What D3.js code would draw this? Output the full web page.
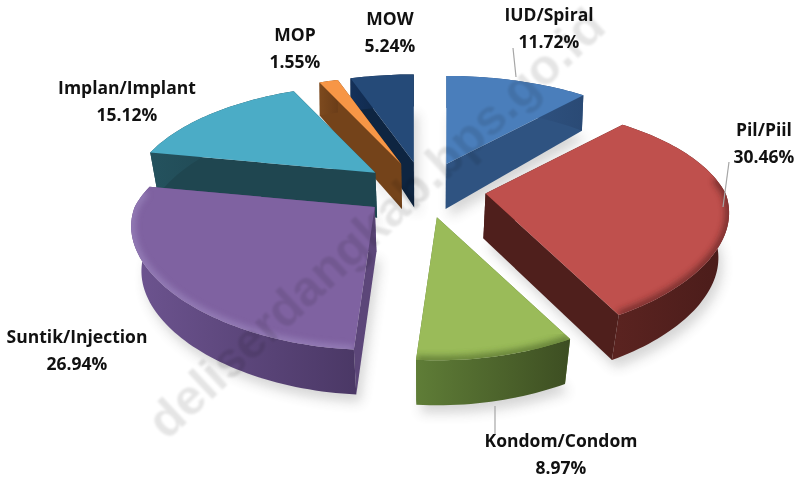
<!DOCTYPE html>
<html>
<head>
<meta charset="utf-8">
<script src="https://cdn.jsdelivr.net/npm/d3@7"></script>
<style>
    html, body { margin: 0; background: #fff; }
    svg { display: block; }
    text { font-family: "Open Sans", Lato, sans-serif; font-weight: 700; fill: #111; }
</style>
</head>
<body>
<div id="chart"></div>
<script>
const categories = ["IUD/Spiral", "Pil/Piil", "Kondom/Condom", "Suntik/Injection", "Implan/Implant", "MOP", "MOW"];
const values = [11.72, 30.46, 8.97, 26.94, 15.12, 1.55, 5.24];

const topColors = ["#4a7ebb", "#bf504d", "#9abb59", "#7f62a1", "#4bacc6", "#f79646", "#254a78"];
const cutColors = ["#2f5381", "#4f1f1c", "#5d7a35", "#5c4679", "#1f4650", "#74431a", "#0e2541"];
const rimFrom = ["#355d91", "#5a2320", "#5f7d37", "#6d5490", "#24525e", "#7d4a1e", "#14315a"];
const rimTo = ["#2a4a75", "#4a1c1a", "#3d4e22", "#4b3866", "#1d414b", "#6b3d18", "#0c2039"];
const bevelColors = ["#2f5381", "#5a2320", "#4d662c", "#9d88bf", "#1f4650", "#74431a", "#0e2541"];

// label centre x, first baseline y, leader line (x1, y1, x2, y2) or null
const labelX = [549, 764, 561, 77, 127, 295, 390];
const labelY = [21, 136, 447, 343, 94, 41, 25];
const leaders = [[513, 48, 516, 77], [729, 162, 723, 207], [495, 406, 495, 435], null, null, null, null];

const drawOrder = [6, 5, 4, 3, 0, 2, 1];

const width = 801;
const height = 481;
const cx = 424;
const cy = 190;
const explode = 62;
const explodeTilt = 0.45;

// perspective of the pie plate, fitted to the picture
const radiusX = 240;
const radiusY = 109;
const persp = 0.238;
const perspFront = 0.17;

const svg = d3.select("#chart").append("svg")
    .attr("width", width)
    .attr("height", height);
const defs = svg.append("defs");

const blur = (id, dev) => defs.append("filter")
    .attr("id", id)
    .attr("x", "-20%").attr("y", "-20%").attr("width", "140%").attr("height", "140%")
    .append("feGaussianBlur").attr("stdDeviation", dev);
blur("shadowBlur", 6);
blur("bevelBlur", 3);
blur("markBlur", 0.8);

const slices = d3.pie().sort(null).startAngle(0).endAngle(2 * Math.PI)(values);
const line = d3.line();

// top face point of a slice, angle clockwise from the back of the pie
function topPoint(apex, a) {
    const u = Math.sin(a);
    const v = Math.cos(a);
    const denY = 1 + persp * v;
    const denX = 1 + (v < 0 ? perspFront : persp) * v;
    return [apex[0] + radiusX * u / denX, apex[1] - radiusY * v / denY];
}

// matching point on the bottom face: thinner and less shifted towards the back
function bottomPoint(p, v) {
    const back = Math.max(v, 0);
    const depth = 45 - 13 * back;
    return [p[0] - (p[0] - cx) * 0.035 * (1 - back), p[1] + depth];
}

const apexes = slices.map(d => {
    const mid = (d.startAngle + d.endAngle) / 2;
    return [cx + explode * Math.sin(mid), cy - explode * explodeTilt * Math.cos(mid)];
});

const rimAngles = d => {
    const n = Math.max(6, Math.ceil((d.endAngle - d.startAngle) * 40));
    return d3.range(n + 1).map(j => d.startAngle + (d.endAngle - d.startAngle) * j / n);
};

// soft shadow first, under everything
const shadow = svg.append("g").attr("filter", "url(#shadowBlur)").attr("opacity", 0.24);
slices.forEach((d, i) => {
    const apex = apexes[i];
    const pts = rimAngles(d).map(a => bottomPoint(topPoint(apex, a), Math.cos(a)));
    pts.push(bottomPoint(apex, 0));
    shadow.append("path")
        .attr("d", line(pts) + "Z")
        .attr("transform", "translate(4,8)")
        .attr("fill", "#555");
});

const pieGroup = svg.append("g");

drawOrder.forEach(i => {
    const d = slices[i];
    const apex = apexes[i];
    const angles = rimAngles(d);
    const g = pieGroup.append("g").attr("class", "slice");
    const apexBottom = bottomPoint(apex, 0);

    // the two cut faces, the one turned to the viewer last
    [d.startAngle, d.endAngle]
        .sort((a, b) => Math.cos(b) - Math.cos(a))
        .forEach(a => {
            const p = topPoint(apex, a);
            g.append("path")
                .attr("d", line([apex, apexBottom, bottomPoint(p, Math.cos(a)), p]) + "Z")
                .attr("fill", cutColors[i]);
        });

    // outer wall
    const topRim = angles.map(a => topPoint(apex, a));
    const bottomRim = angles.map((a, j) => bottomPoint(topRim[j], Math.cos(a)));
    const xs = d3.extent(topRim, p => p[0]);
    const gradId = "rim" + i;
    const grad = defs.append("linearGradient")
        .attr("id", gradId)
        .attr("gradientUnits", "userSpaceOnUse")
        .attr("x1", xs[0]).attr("x2", xs[1])
        .attr("y1", 0).attr("y2", 0);
    grad.append("stop").attr("offset", 0).attr("stop-color", rimFrom[i]);
    grad.append("stop").attr("offset", 1).attr("stop-color", rimTo[i]);
    g.append("path")
        .attr("d", line(topRim.concat(bottomRim.slice().reverse())) + "Z")
        .attr("fill", "url(#" + gradId + ")");

    // top face
    const face = line([apex].concat(topRim)) + "Z";
    g.append("path").attr("d", face).attr("fill", topColors[i]);

    // bevel only on the part of the rim that faces the viewer
    const frontRim = topRim.filter((p, j) => Math.cos(angles[j]) < 0.15);
    if (frontRim.length > 1) {
        const clipId = "face" + i;
        defs.append("clipPath").attr("id", clipId).append("path").attr("d", face);
        g.append("g").attr("clip-path", "url(#" + clipId + ")")
            .append("path")
            .attr("d", line(frontRim))
            .attr("fill", "none")
            .attr("stroke", bevelColors[i])
            .attr("stroke-width", 8)
            .attr("opacity", 0.7)
            .attr("filter", "url(#bevelBlur)");
    }
});

// leader lines
svg.append("g").selectAll("line")
    .data(leaders.filter(d => d))
    .enter()
    .append("line")
    .attr("x1", d => d[0])
    .attr("y1", d => d[1])
    .attr("x2", d => d[2])
    .attr("y2", d => d[3])
    .attr("stroke", "#a6a6a6")
    .attr("stroke-width", 1.2);

// labels
const labels = svg.append("g").selectAll("text")
    .data(categories)
    .enter()
    .append("text")
    .attr("text-anchor", "middle")
    .style("font-size", "17.5px");
labels.append("tspan")
    .attr("x", (d, i) => labelX[i])
    .attr("y", (d, i) => labelY[i])
    .text(d => d);
labels.append("tspan")
    .attr("x", (d, i) => labelX[i])
    .attr("y", (d, i) => labelY[i] + 26.5)
    .text((d, i) => values[i].toFixed(2) + "%");

// site watermark across the picture
svg.append("text")
    .attr("transform", "translate(608,30) rotate(-43)")
    .attr("text-anchor", "end")
    .attr("fill-opacity", 0.1)
    .attr("filter", "url(#markBlur)")
    .style("fill", "#000")
    .style("font-family", "'Liberation Sans', sans-serif")
    .style("font-size", "50px")
    .text("deliserdangkab.bps.go.id");
</script>
</body>
</html>
